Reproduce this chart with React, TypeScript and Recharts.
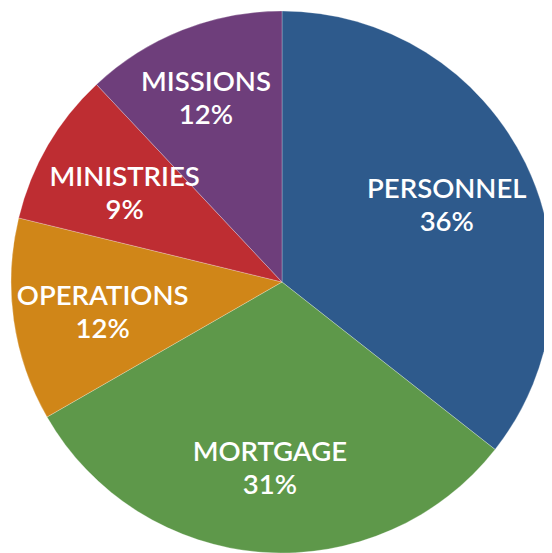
import React from "react";
import { PieChart, Pie, Cell } from "recharts";

const categories = ["PERSONNEL", "MORTGAGE", "OPERATIONS", "MINISTRIES", "MISSIONS"];
const shares = [35.6, 31.1, 12.1, 9.2, 12.0];
const colors = ["#2E5A8C", "#5E984A", "#D08618", "#BE2D32", "#6E3E7B"];

const data = categories.map((name, i) => ({ name, value: shares[i] }));

const RAD = Math.PI / 180;
const LABEL_NUDGE: Record<string, [number, number]> = {
  PERSONNEL: [1, 2],
  MORTGAGE: [1, 4],
  OPERATIONS: [1, 4],
  MINISTRIES: [0, 2],
  MISSIONS: [-9, -15],
};

const renderLabel = (props: any) => {
  const { cx, cy, midAngle, outerRadius, name, value } = props;
  const r = outerRadius * 0.672;
  const nudge = LABEL_NUDGE[name] || [0, 0];
  const x = cx + r * Math.cos(-midAngle * RAD) + nudge[0];
  const y = cy + r * Math.sin(-midAngle * RAD) + nudge[1];
  return (
    <text
      x={x}
      y={y}
      textAnchor="middle"
      fill="#ffffff"
      fontFamily="Lato, sans-serif"
      fontWeight={600}
      fontSize={27.5}
    >
      <tspan x={x} y={y - 6.5}>{name}</tspan>
      <tspan x={x} y={y + 26.5}>{Math.round(value)}%</tspan>
    </text>
  );
};

export default function App() {
  return (
    <PieChart width={544} height={545} margin={{ top: 0, right: 0, bottom: 0, left: 0 }}>
      <Pie
        data={data}
        dataKey="value"
        nameKey="name"
        cx={274}
        cy={274}
        outerRadius={271}
        startAngle={90}
        endAngle={-270}
        stroke="#ffffff"
        strokeWidth={0.5}
        strokeOpacity={0.5}
        label={renderLabel}
        labelLine={false}
        isAnimationActive={false}
      >
        {data.map((d, i) => (
          <Cell key={d.name} fill={colors[i]} />
        ))}
      </Pie>
    </PieChart>
  );
}
